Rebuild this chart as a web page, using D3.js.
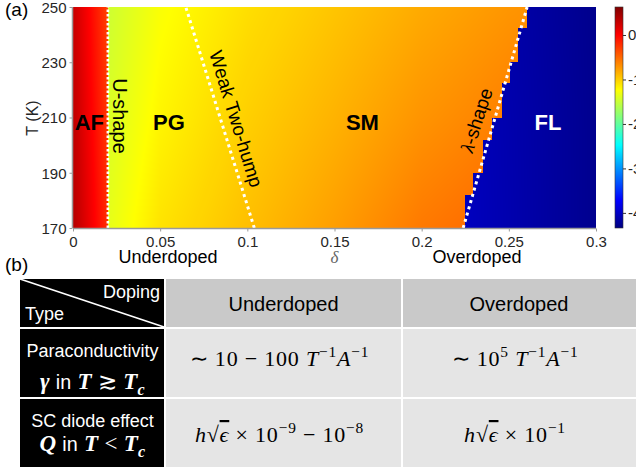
<!DOCTYPE html>
<html>
<head>
<meta charset="utf-8">
<script src="https://cdn.jsdelivr.net/npm/d3@7"></script>
<style>
  body { margin: 0; background: #fff; }
  svg { display: block; }
  text { white-space: pre; }
</style>
</head>
<body>
<svg id="chart" width="636" height="472"></svg>
<script>
// ---------- data ----------
// temperature rows of the sampled map (K)
const tempRows = [170, 210, 250];

// antiferromagnetic strip: doping nodes and log-resistivity per temperature row
const afDoping = [0, 0.02];
const afValues = [
  [0.38, -0.21],   // 170 K
  [0.33, -0.26],   // 210 K
  [0.28, -0.31]    // 250 K
];

// pseudogap / strange-metal region
const metalDoping = [0.02, 0.05, 0.10, 0.15, 0.20, 0.25, 0.27];
const metalValues = [
  [-1.36, -1.10, -0.92, -0.76, -0.58, -0.48, -0.45],  // 170 K
  [-1.42, -1.19, -1.00, -0.86, -0.71, -0.61, -0.58],  // 210 K
  [-1.48, -1.26, -1.08, -0.95, -0.82, -0.72, -0.69]   // 250 K
];

// Fermi-liquid region
const flDoping = [0.22, 0.30];
const flValues = [
  [-4.02, -4.27],
  [-4.03, -4.27],
  [-4.05, -4.28]
];

// Fermi-liquid onset: temperature band edges and onset doping in each band
const flBandEdges = [170, 182, 190, 202, 210, 222.5, 230, 242.5, 250];
const flOnset = [0.2250, 0.2296, 0.2353, 0.2405, 0.2462, 0.2508, 0.2553, 0.2605];
const afEdge = 0.02;

// crossover lines (doping, T)
const uShapeLine = [[0.02, 170], [0.02, 250]];
const twoHumpLine = [[0.104, 170], [0.0647, 250]];
const lambdaLine = [[0.2238, 170], [0.2605, 250]];

// axes
const xTicks = [0, 0.05, 0.1, 0.15, 0.2, 0.25, 0.3];
const xTickLabels = ["0", "0.05", "0.1", "0.15", "0.2", "0.25", "0.3"];
const yTicks = [170, 190, 210, 230, 250];
const cbTicks = [0, -1, -2, -3, -4];
const cbTickLabels = ["0", "-1", "-2", "-3", "-4"];
const cbDomain = [-4.34, 0.63];

// table (b)
const tableColumns = ["Underdoped", "Overdoped"];
const rowLabels = [
  { line1: "Paraconductivity",
    line2: [["γ", "bi"], [" in ", "s"], ["T", "bi"], [" ≳ ", "n"], ["T", "bi"], ["c", "bisub"]] },
  { line1: "SC diode effect",
    line2: [["Q", "bi"], [" in ", "s"], ["T", "bi"], [" < ", "n"], ["T", "bi"], ["c", "bisub"]] }
];
const tableCells = [
  [
    [["∼ 10 − 100 ", "n"], ["T", "i"], ["−1", "sup"], ["A", "i"], ["−1", "sup"]],
    [["∼ 10", "n"], ["5", "sup"], [" ", "n"], ["T", "i"], ["−1", "sup"], ["A", "i"], ["−1", "sup"]]
  ],
  [
    [["h", "i"], ["√", "n"], ["ϵ", "iover"], [" × 10", "n"], ["−9", "sup"], [" − 10", "n"], ["−8", "sup"]],
    [["h", "i"], ["√", "n"], ["ϵ", "iover"], [" × 10", "n"], ["−1", "sup"]]
  ]
];

// ---------- drawing ----------
const svg = d3.select("#chart");
const fontSans = "'Liberation Sans', Arial, Helvetica, sans-serif";
const fontSerif = "'Liberation Serif', 'Times New Roman', serif";
const tickColor = "#262626";

const x = d3.scaleLinear().domain([0, 0.3]).range([73, 596]);
const y = d3.scaleLinear().domain([170, 250]).range([228, 7]);

// jet colour ramp spread over the colour bar range
const jetPos = [0, 0.125, 0.375, 0.625, 0.875, 1];
const jetCols = ["#000080", "#0000ff", "#00ffff", "#ffff00", "#ff0000", "#800000"];
const color = d3.scaleLinear()
  .domain(jetPos.map(p => cbDomain[0] + p * (cbDomain[1] - cbDomain[0])))
  .range(jetCols)
  .interpolate(d3.interpolateRgb)
  .clamp(true);

function segment(arr, v) {
  let i = d3.bisectRight(arr, v) - 1;
  i = Math.max(0, Math.min(arr.length - 2, i));
  const f = Math.max(0, Math.min(1, (v - arr[i]) / (arr[i + 1] - arr[i])));
  return [i, f];
}
function sample(nodes, values, d, t) {
  const [i, fx] = segment(nodes, d);
  const [j, fy] = segment(tempRows, t);
  const a = values[j][i] * (1 - fx) + values[j][i + 1] * fx;
  const b = values[j + 1][i] * (1 - fx) + values[j + 1][i + 1] * fx;
  return a * (1 - fy) + b * fy;
}
function onsetAt(t) {
  let k = d3.bisectRight(flBandEdges, t) - 1;
  k = Math.max(0, Math.min(flOnset.length - 1, k));
  return flOnset[k];
}

// heat map raster
const x0 = x.range()[0], y0 = y.range()[1];
const W = Math.round(x.range()[1] - x0), H = Math.round(y.range()[0] - y0);
const canvas = document.createElement("canvas");
canvas.width = W; canvas.height = H;
const ctx = canvas.getContext("2d");
const img = ctx.createImageData(W, H);
const N = 1024;
const lut = d3.range(N).map(i => d3.rgb(color(cbDomain[0] + i / (N - 1) * (cbDomain[1] - cbDomain[0]))));
for (let py = 0; py < H; py++) {
  const t = y.invert(y0 + py + 0.5);
  const onset = onsetAt(t);
  for (let px = 0; px < W; px++) {
    const d = x.invert(x0 + px + 0.5);
    let v;
    if (d < afEdge) v = sample(afDoping, afValues, d, t);
    else if (d >= onset) v = sample(flDoping, flValues, d, t);
    else v = sample(metalDoping, metalValues, d, t);
    let k = Math.round((v - cbDomain[0]) / (cbDomain[1] - cbDomain[0]) * (N - 1));
    k = Math.max(0, Math.min(N - 1, k));
    const c = lut[k], o = (py * W + px) * 4;
    img.data[o] = c.r; img.data[o + 1] = c.g; img.data[o + 2] = c.b; img.data[o + 3] = 255;
  }
}
ctx.putImageData(img, 0, 0);
svg.append("image")
  .attr("x", x0).attr("y", y0).attr("width", W).attr("height", H)
  .attr("preserveAspectRatio", "none")
  .attr("href", canvas.toDataURL());

// crossover lines
const line = d3.line().x(p => x(p[0])).y(p => y(p[1]));
svg.append("path").attr("d", line(uShapeLine))
  .attr("fill", "none").attr("stroke", "#fff").attr("stroke-width", 2.6).attr("stroke-dasharray", "2.5 2");
[twoHumpLine, lambdaLine].forEach(l => {
  svg.append("path").attr("d", line(l))
    .attr("fill", "none").attr("stroke", "#fff").attr("stroke-width", 3).attr("stroke-dasharray", "3 3.5");
});

// axes
const axisColor = "#9a9a9a";
const gx = svg.append("g").attr("transform", `translate(0,${y.range()[0] + 0.5})`)
  .call(d3.axisBottom(x).tickValues(xTicks).tickFormat((d, i) => xTickLabels[i]).tickSize(3).tickPadding(5));
const gy = svg.append("g").attr("transform", `translate(${x0 - 0.5},0)`)
  .call(d3.axisLeft(y).tickValues(yTicks).tickSize(3).tickPadding(3));
[gx, gy].forEach(g => {
  g.select(".domain").attr("stroke", axisColor).attr("stroke-width", 1.5);
  g.selectAll(".tick line").attr("stroke", axisColor);
  g.selectAll(".tick text").attr("fill", tickColor).attr("font-size", 15).attr("font-family", fontSans);
});
gx.select(".domain").attr("d", `M${x0},0H${x.range()[1]}`);
gy.select(".domain").attr("d", `M0,${y.range()[0]}V${y.range()[1]}`);
gy.selectAll(".tick text").attr("dy", "0.36em");

// axis titles
svg.append("text").attr("transform", "translate(38,118) rotate(-90)")
  .attr("text-anchor", "middle").attr("font-family", fontSans).attr("font-size", 16).attr("fill", tickColor)
  .text("T (K)");
svg.append("text").attr("x", x(0.15)).attr("y", 263).attr("text-anchor", "middle")
  .attr("font-family", fontSerif).attr("font-style", "italic").attr("font-size", 17).attr("fill", "#666")
  .text("δ");
svg.append("text").attr("x", 168).attr("y", 263).attr("text-anchor", "middle")
  .attr("font-family", fontSans).attr("font-size", 18).attr("fill", "#000").text("Underdoped");
svg.append("text").attr("x", 477).attr("y", 263).attr("text-anchor", "middle")
  .attr("font-family", fontSans).attr("font-size", 18).attr("fill", "#000").text("Overdoped");

// panel letters
svg.append("text").attr("x", 5).attr("y", 16).attr("font-family", fontSans).attr("font-size", 19).text("(a)");
svg.append("text").attr("x", 5).attr("y", 271).attr("font-family", fontSans).attr("font-size", 19).text("(b)");

// region names
const regionNames = [
  { text: "AF", d: 0.0094, fill: "#000" },
  { text: "PG", d: 0.055, fill: "#000" },
  { text: "SM", d: 0.166, fill: "#000" },
  { text: "FL", d: 0.2725, fill: "#fff" }
];
svg.selectAll("text.region").data(regionNames).join("text")
  .attr("class", "region")
  .attr("x", r => x(r.d)).attr("y", y(205.5))
  .attr("text-anchor", "middle").attr("font-family", fontSans).attr("font-weight", "bold")
  .attr("font-size", 22).attr("fill", r => r.fill).text(r => r.text);

// crossover names
svg.append("text").attr("transform", "translate(120,116) rotate(90)")
  .attr("text-anchor", "middle").attr("dominant-baseline", "central")
  .attr("font-family", fontSans).attr("font-size", 20).text("U-shape");
svg.append("text").attr("transform", "translate(236,119) rotate(73)")
  .attr("text-anchor", "middle").attr("dominant-baseline", "central")
  .attr("font-family", fontSans).attr("font-size", 19).text("Weak Two-hump");
const lam = svg.append("text").attr("transform", "translate(476,120) rotate(-72)")
  .attr("text-anchor", "middle").attr("dominant-baseline", "central")
  .attr("font-family", fontSans).attr("font-size", 19);
lam.append("tspan").attr("font-family", fontSerif).attr("font-style", "italic").text("λ");
lam.append("tspan").text("-shape");

// colour bar
const cb = d3.scaleLinear().domain(cbDomain).range([228, 7]);
const grad = svg.append("defs").append("linearGradient").attr("id", "jet")
  .attr("x1", 0).attr("y1", 1).attr("x2", 0).attr("y2", 0);
grad.selectAll("stop").data(jetPos).join("stop")
  .attr("offset", p => p).attr("stop-color", (p, i) => jetCols[i]);
svg.append("rect").attr("x", 615).attr("y", cb.range()[1]).attr("width", 8)
  .attr("height", cb.range()[0] - cb.range()[1])
  .attr("fill", "url(#jet)").attr("stroke", "#333").attr("stroke-width", 0.6);
const gcb = svg.append("g").attr("transform", "translate(623,0)")
  .call(d3.axisRight(cb).tickValues(cbTicks).tickFormat((d, i) => cbTickLabels[i]).tickSize(3).tickPadding(2));
gcb.select(".domain").remove();
gcb.selectAll(".tick line").attr("stroke", "#333");
gcb.selectAll(".tick text").attr("fill", tickColor).attr("font-size", 15).attr("font-family", fontSans);

// ---------- table ----------
const colEdges = [20, 165, 402, 636];
const rowEdges = [279, 328, 398, 468];
const gap = 2;
const tbl = svg.append("g");
function cellRect(ci, ri, fill) {
  return tbl.append("rect")
    .attr("x", colEdges[ci] + (ci > 0 ? gap / 2 : 0))
    .attr("y", rowEdges[ri] + (ri > 0 ? gap / 2 : 0))
    .attr("width", colEdges[ci + 1] - colEdges[ci] - (ci > 0 ? gap / 2 : 0) - (ci < 2 ? gap / 2 : 0))
    .attr("height", rowEdges[ri + 1] - rowEdges[ri] - (ri > 0 ? gap / 2 : 0) - gap / 2)
    .attr("fill", fill);
}
for (let ri = 0; ri < 3; ri++) {
  for (let ci = 0; ci < 3; ci++) {
    cellRect(ci, ri, ci === 0 ? "#000" : ri === 0 ? "#c9c9c9" : "#e5e5e5");
  }
}
// header diagonal
tbl.append("line")
  .attr("x1", colEdges[0]).attr("y1", rowEdges[0])
  .attr("x2", colEdges[1] - gap / 2).attr("y2", rowEdges[1] - gap / 2)
  .attr("stroke", "#fff").attr("stroke-width", 1.5);
tbl.append("text").attr("x", colEdges[1] - 5).attr("y", 298).attr("text-anchor", "end")
  .attr("font-family", fontSans).attr("font-size", 18).attr("fill", "#fff").text("Doping");
tbl.append("text").attr("x", colEdges[0] + 5).attr("y", 320)
  .attr("font-family", fontSans).attr("font-size", 18).attr("fill", "#fff").text("Type");
tableColumns.forEach((c, i) => {
  tbl.append("text").attr("x", (colEdges[i + 1] + colEdges[i + 2]) / 2).attr("y", 311)
    .attr("text-anchor", "middle").attr("font-family", fontSans).attr("font-size", 20)
    .attr("fill", "#000").text(c);
});

function richText(parent, segs, cx, by, size, fill, spacing) {
  const t = parent.append("text").attr("x", cx).attr("y", by).attr("text-anchor", "middle")
    .attr("font-size", size).attr("fill", fill).attr("font-family", fontSerif)
    .attr("letter-spacing", spacing || 0);
  let shift = 0;
  segs.forEach(([str, kind]) => {
    const ts = t.append("tspan").text(str);
    const sup = kind.includes("sup"), sub = kind.includes("sub");
    const target = sup ? -0.42 * size : sub ? 0.28 * size : 0;
    if (target !== shift) ts.attr("dy", target - shift);
    shift = target;
    if (sup || sub) ts.attr("font-size", size * 0.7);
    if (kind === "s") ts.attr("font-family", fontSans).attr("font-size", size * 0.86);
    if (kind.startsWith("i")) ts.attr("font-style", "italic");
    if (kind.startsWith("bi")) ts.attr("font-style", "italic").attr("font-weight", "bold");
    if (kind === "iover") ts.attr("text-decoration", "overline");
  });
  return t;
}

const labelCx = (colEdges[0] + colEdges[1]) / 2;
const labelLines = [[357, 389], [427, 451]];
rowLabels.forEach((r, i) => {
  tbl.append("text").attr("x", labelCx).attr("y", labelLines[i][0]).attr("text-anchor", "middle")
    .attr("font-family", fontSans).attr("font-size", 18).attr("fill", "#fff").text(r.line1);
  richText(tbl, r.line2, labelCx, labelLines[i][1], 23, "#fff", 0.3);
});
const mathBase = [366, 442];
tableCells.forEach((row, ri) => {
  row.forEach((segs, ci) => {
    richText(tbl, segs, (colEdges[ci + 1] + colEdges[ci + 2]) / 2 - 4, mathBase[ri], 22, "#000", 0.8);
  });
});
</script>
</body>
</html>
